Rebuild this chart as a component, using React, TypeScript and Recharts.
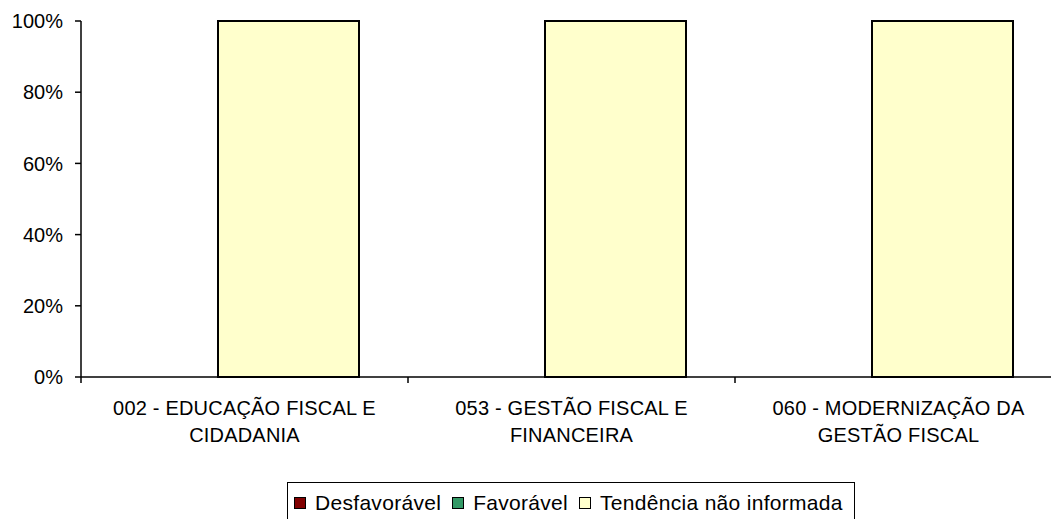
import React from "react";
import { BarChart, Bar, XAxis, YAxis } from "recharts";

const categories = [
  "002 - EDUCAÇÃO FISCAL E|CIDADANIA",
  "053 - GESTÃO FISCAL E|FINANCEIRA",
  "060 - MODERNIZAÇÃO DA|GESTÃO FISCAL",
];
const desfavoravel = [0, 0, 0];
const favoravel = [0, 0, 0];
const tendencia = [100, 100, 100];
const yTicks = [0, 20, 40, 60, 80, 100];

const series = [
  { key: "desfavoravel", name: "Desfavorável", color: "#800000" },
  { key: "favoravel", name: "Favorável", color: "#339966" },
  { key: "tendencia", name: "Tendência não informada", color: "#FFFFCC" },
];

const data = categories.map((c, i) => ({
  name: c,
  desfavoravel: desfavoravel[i],
  favoravel: favoravel[i],
  tendencia: tendencia[i],
}));

const FONT = "'Liberation Sans', Arial, sans-serif";

const XTick = (props: any) => {
  const { x, y, payload, index, visibleTicksCount } = props;
  const half = payload && payload.offset ? payload.offset : 163.5;
  const lines = String(payload.value).split("|");
  const axisY = y - 14;
  return (
    <g>
      <line x1={x - half} x2={x - half} y1={axisY} y2={axisY + 6} stroke="#000" strokeWidth={1.5} />
      {index === (visibleTicksCount ?? 3) - 1 && (
        <line x1={x + half} x2={x + half} y1={axisY} y2={axisY + 6} stroke="#000" strokeWidth={1.5} />
      )}
      {lines.map((l, i) => (
        <text
          key={i}
          x={x}
          y={axisY + 33 + i * 27}
          textAnchor="middle"
          dominantBaseline="middle"
          fontFamily={FONT}
          fontSize={20}
          letterSpacing={0.2}
          fill="#000"
        >
          {l}
        </text>
      ))}
    </g>
  );
};

export default function App() {
  return (
    <div
      style={{
        position: "absolute",
        left: 0,
        top: 0,
        width: 1051,
        height: 519,
        overflow: "hidden",
        background: "#fff",
      }}
    >
      <BarChart
        width={1070}
        height={519}
        data={data}
        margin={{ top: 21, right: 8, left: 0, bottom: 82 }}
        barSize={141}
        barGap={-97}
        barCategoryGap={0}
      >
        <XAxis
          dataKey="name"
          height={60}
          tick={<XTick />}
          tickLine={false}
          axisLine={{ stroke: "#000", strokeWidth: 1.5 }}
          tickSize={6}
          tickMargin={8}
          interval={0}
        />
        <YAxis
          width={81}
          domain={[0, 100]}
          ticks={yTicks}
          tickFormatter={(v: number) => `${v}%`}
          tickSize={6}
          tickMargin={12}
          axisLine={{ stroke: "#000", strokeWidth: 1.5 }}
          tickLine={{ stroke: "#000", strokeWidth: 1.5 }}
          tick={{ fill: "#000", fontSize: 20, fontFamily: FONT }}
          interval={0}
        />
        {series.map((s) => (
          <Bar
            key={s.key}
            dataKey={s.key}
            name={s.name}
            fill={s.color}
            stroke="#000"
            strokeWidth={2}
            isAnimationActive={false}
          />
        ))}
      </BarChart>
      <div
        style={{
          position: "absolute",
          left: 287,
          top: 482,
          width: 568,
          height: 42,
          border: "1px solid #000",
          boxSizing: "border-box",
          display: "flex",
          alignItems: "center",
          padding: "0 6px",
          fontFamily: FONT,
          fontSize: 21,
          letterSpacing: 0.3,
          color: "#000",
          whiteSpace: "nowrap",
        }}
      >
        {series.map((s, i) => (
          <div
            key={s.key}
            style={{ display: "flex", alignItems: "center", marginLeft: i === 0 ? 0 : 11 }}
          >
            <span
              style={{
                display: "inline-block",
                width: 10,
                height: 10,
                background: s.color,
                border: "1.5px solid #000",
                marginRight: 9,
              }}
            />
            <span>{s.name}</span>
          </div>
        ))}
      </div>
    </div>
  );
}
